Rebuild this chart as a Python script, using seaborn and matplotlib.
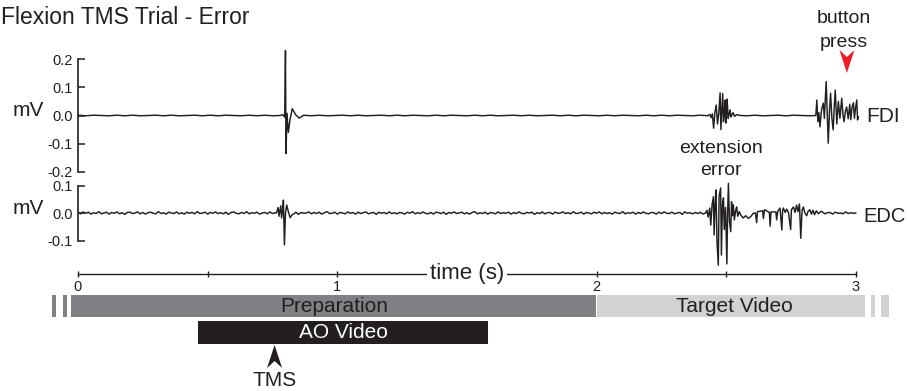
import numpy as np
import pandas as pd
import matplotlib
matplotlib.use("Agg")
import matplotlib.pyplot as plt
from matplotlib.patches import Polygon
import seaborn as sns

# ---------------- EMG recordings (mV) ----------------
# baseline fuzz, in thousandths of a mV
FDI_NOISE_STEP = 0.03
FDI_NOISE = [1, -1, 1, 0, -1, 1, -1, 1, -1, 0,
             1, -1, 1, -1, 0, 1, -1, 1, -1, 1,
             0, -1, 1, -1, 1, -1, 1, 0, -1, 1,
             -1, 1, -1, 0, 1, -1, 1, -1, 0, 1,
             -1, 1, -1, 1, 0, -1, 1, -1, 1, 0,
             -1, 1, -1, 1, -1, 0, 1, -1, 1, -1,
             0, 1, -1, 1, -1, 1, 0, -1, 1, -1,
             1, 0, -1, 1, -1, 1, -1, 1, 0, -1,
             1, -1, 0, 1, -1, 1, -1, 1, -1, 0,
             1, -1, 1, 0, -1, 1, -1, 1, -1, 1, 0]

EDC_NOISE_STEP = 0.01
EDC_NOISE = [2, -3, 4, -1, 3, -4, 1, -2, 5, -3, 0, 3, -4, 2, -1, 4, -3, 1, -5, 2,
             3, -2, 0, 4, -3, 2, -4, 1, 3, -1, -3, 5, -2, 1, -4, 3, 0, -2, 4, -3,
             1, -4, 3, -1, 2, -3, 5, -2, 0, 3, -4, 2, -1, 4, -2, 1, -3, 3, -5, 2,
             4, -1, -3, 2, -2, 5, -3, 1, -1, 3, -4, 0, 2, -3, 4, -2, 1, -4, 3, -1,
             -2, 4, -3, 1, 3, -5, 2, -1, 0, 4, -3, 2, -2, 3, -4, 1, 5, -2, -1, 3,
             -4, 2, 0, -3, 4, -1, 2, -4, 3, -2, 1, 4, -3, 0, 2, -5, 3, -1, 2, -3,
             4, -2, 1, -3, 2, 0, -4, 3, -1, 5, -3, 1, -2, 4, -1, -3, 2, -4, 3, 1,
             -2, 3, -5, 2, -1, 4, -2, 0, 3, -3, 1, -4, 2, 5, -3, 1, -2, 3, -4, 2,
             0, -3, 4, -2, 1, -1, 3, -4, 2, -2, 4, -1, -3, 2, 0, 3, -5, 1, -2, 4,
             -3, 1, 2, -4, 3, -1, 0, 4, -2, 1, -3, 5, -2, -1, 3, -4, 2, 0, -3, 3,
             -1, 4, -3, 2, -2, 1, -4, 3, 0, -2, 5, -3, 1, -1, 3, -4, 2, -2, 4, -1,
             -3, 2, 1, -4, 3, -2, 4, -1, -2, 3, -3, 0, 2, -5, 4, -1, 1, -3, 2, -2,
             3, -4, 1, 2, -3, 4, -2, 0, -1, 3, -4, 2, -1, 5, -3, 1, -2, 3, -1, -3,
             2, -1, 4, -3, 1, -2, 3, -4, 0, 2, -3, 4, -1, -2, 3, -4, 1, 2, -3, 1,
             -2, 4, -3, 0, 3, -1, -2, 4, -3, 1, 2, -4, 3, -1, 0, -3, 4, -2, 1, -1,
             0]

# FDI: motor evoked potential after the pulse
FDI_MEP_T = [0.780, 0.790, 0.797, 0.800, 0.802, 0.806, 0.811, 0.818, 0.826, 0.840, 0.853, 0.868]
FDI_MEP_V = [0.000, 0.003, -0.006, 0.230, -0.135, 0.008, -0.060, -0.012, 0.024, 0.002, -0.009, 0.000]

# FDI: activity during the extension error
FDI_ERR_T = [2.430, 2.437, 2.441, 2.446, 2.451, 2.456, 2.461, 2.466, 2.471, 2.476,
             2.479, 2.483, 2.486, 2.489, 2.492, 2.495, 2.498, 2.501, 2.503, 2.507,
             2.511, 2.514, 2.518, 2.522, 2.526, 2.532, 2.540, 2.555]
FDI_ERR_V = [0.000, 0.004, -0.008, 0.006, -0.045, 0.012, 0.037, -0.030, 0.010, 0.080,
             -0.050, 0.020, 0.078, -0.022, 0.005, 0.055, -0.027, 0.010, 0.058, -0.010,
             0.005, 0.020, -0.005, 0.004, 0.010, -0.003, 0.003, 0.000]

# FDI: burst around the button press
FDI_PRESS_T = [2.845, 2.849, 2.853, 2.857, 2.861, 2.867, 2.874, 2.878, 2.885, 2.889,
               2.893, 2.898, 2.902, 2.907, 2.912, 2.916, 2.920, 2.926, 2.932, 2.938,
               2.945, 2.950, 2.954, 2.959, 2.964, 2.970, 2.976, 2.980, 2.985, 2.990,
               2.994, 2.998, 3.003, 3.006, 3.009]
FDI_PRESS_V = [0.000, 0.055, -0.022, 0.010, -0.040, 0.020, 0.044, -0.010, 0.120, 0.010,
               -0.098, 0.020, 0.079, -0.010, -0.051, 0.030, 0.090, -0.030, 0.050, -0.010,
               0.061, 0.000, -0.022, 0.015, 0.030, -0.012, 0.040, -0.015, 0.030, 0.045,
               -0.010, 0.025, 0.055, -0.016, -0.004]

# EDC: motor evoked potential after the pulse
EDC_MEP_T = [0.765, 0.769, 0.772, 0.775, 0.779, 0.782, 0.785, 0.789, 0.792, 0.796,
             0.800, 0.805, 0.811, 0.818, 0.826, 0.835]
EDC_MEP_V = [0.000, 0.012, 0.020, -0.012, 0.010, 0.026, -0.018, 0.010, 0.047, -0.116,
             0.000, 0.029, 0.005, -0.017, -0.006, -0.002]

# EDC: extension error burst
EDC_ERR_T = [2.420, 2.425, 2.430, 2.436, 2.440, 2.445, 2.450, 2.453, 2.457, 2.460,
             2.464, 2.469, 2.472, 2.478, 2.481, 2.485, 2.489, 2.492, 2.497, 2.502,
             2.505, 2.508, 2.512, 2.517, 2.520, 2.524, 2.527, 2.531, 2.536, 2.540,
             2.544, 2.550, 2.556, 2.565, 2.575, 2.585, 2.595, 2.605]
EDC_ERR_V = [0.000, 0.010, -0.015, 0.018, -0.044, 0.030, 0.059, -0.080, 0.040, 0.084,
             -0.104, -0.190, 0.060, 0.091, -0.153, 0.030, 0.055, -0.060, 0.020, -0.185,
             0.000, 0.108, -0.030, -0.068, 0.041, -0.010, 0.030, -0.025, 0.010, 0.022,
             -0.012, 0.005, -0.008, -0.018, -0.010, -0.020, -0.012, 0.000]

# EDC: later scattered activity
EDC_LATE_T = [2.612, 2.617, 2.620, 2.640, 2.643, 2.647, 2.666, 2.669, 2.672, 2.691,
              2.694, 2.698, 2.707, 2.714, 2.717, 2.720, 2.727, 2.733, 2.740, 2.748,
              2.751, 2.759, 2.765, 2.771, 2.776, 2.782, 2.787, 2.792, 2.797, 2.803,
              2.810, 2.815, 2.822, 2.828, 2.834, 2.840, 2.847, 2.855, 2.865]
EDC_LATE_V = [0.000, -0.035, 0.005, 0.008, -0.020, 0.012, 0.002, -0.048, 0.004, 0.004,
              -0.025, 0.006, 0.018, -0.062, 0.010, 0.018, 0.002, 0.014, 0.000, -0.060,
              0.012, 0.022, 0.002, 0.029, 0.005, 0.033, -0.092, 0.010, 0.022, 0.000,
              -0.010, 0.006, 0.012, -0.004, 0.010, -0.006, 0.008, -0.003, 0.006]

# ---------------- trial timeline (s) ----------------
EPOCH_LABELS = ["Preparation", "Target Video"]
EPOCH_START = [-0.1015, 2.002]
EPOCH_END = [1.998, 3.129]
EPOCH_LABEL_T = [0.99, 2.532]
AO_LABEL = "AO Video"
AO_START, AO_END = 0.463, 1.581
TMS_TIME = 0.758
PRESS_TIME = 2.965
TIME_TICKS = [0, 0.5, 1, 1.5, 2, 2.5, 3]
TIME_LABELS = ["0", "", "1", "", "2", "", "3"]
FDI_TICKS = [0.2, 0.1, 0.0, -0.1, -0.2]
FDI_TICK_LABELS = ["0.2", "0.1", "0.0", "-0.1", "-0.2"]
EDC_TICKS = [0.1, 0.0, -0.1]
EDC_TICK_LABELS = ["0.1", "0.0", "-0.1"]


def build_trace(noise, step, events):
    """Merge baseline fuzz with the hand-read event segments."""
    t = np.arange(len(noise)) * step
    v = np.asarray(noise, float) / 1000.0
    keep = np.ones(len(t), bool)
    for et, _ in events:
        keep &= ~((t >= et[0]) & (t <= et[-1]))
    ts = [t[keep]] + [np.asarray(et, float) for et, _ in events]
    vs = [v[keep]] + [np.asarray(ev, float) for _, ev in events]
    df = pd.DataFrame({"time": np.concatenate(ts), "mV": np.concatenate(vs)})
    return df.sort_values("time").reset_index(drop=True)


fdi = build_trace(FDI_NOISE, FDI_NOISE_STEP,
                  [(FDI_MEP_T, FDI_MEP_V), (FDI_ERR_T, FDI_ERR_V), (FDI_PRESS_T, FDI_PRESS_V)])
edc = build_trace(EDC_NOISE, EDC_NOISE_STEP,
                  [(EDC_MEP_T, EDC_MEP_V), (EDC_ERR_T, EDC_ERR_V), (EDC_LATE_T, EDC_LATE_V)])

# ---------------- styling ----------------
sns.set_style("ticks")
plt.rcParams["font.family"] = ["Liberation Sans", "DejaVu Sans"]
plt.rcParams["axes.unicode_minus"] = False
INK = "#231f20"
PREP_GREY = "#808184"
TARGET_GREY = "#d1d2d4"
RED = "#ed1c24"

W, H = 908, 391
X_LEFT, X_RIGHT = 78, 856
PX_PER_S = (X_RIGHT - X_LEFT) / 3.0


def frame(x0, y0, x1, y1):
    return [x0 / W, 1 - y1 / H, (x1 - x0) / W, (y1 - y0) / H]


fig = plt.figure(figsize=(W / 100, H / 100), dpi=100)
fig.patch.set_facecolor("white")

ax_fdi = fig.add_axes(frame(X_LEFT, 44.9, X_RIGHT, 186.1))
ax_edc = fig.add_axes(frame(X_LEFT, 180, X_RIGHT, 268))

sns.lineplot(data=fdi, x="time", y="mV", ax=ax_fdi, color=INK, linewidth=1.05,
             estimator=None, sort=False, clip_on=False)
sns.lineplot(data=edc, x="time", y="mV", ax=ax_edc, color=INK, linewidth=1.05,
             estimator=None, sort=False, clip_on=False)

for ax, lim, ticks, labels, bound in (
        (ax_fdi, (-0.25, 0.25), FDI_TICKS, FDI_TICK_LABELS, 0.2),
        (ax_edc, (-0.2, 0.12), EDC_TICKS, EDC_TICK_LABELS, 0.1)):
    ax.set_xlim(0, 3)
    ax.set_ylim(*lim)
    ax.patch.set_alpha(0)
    sns.despine(ax=ax, bottom=True)
    ax.set_xticks([])
    ax.set_xlabel("")
    ax.set_ylabel("")
    ax.set_yticks(ticks)
    ax.set_yticklabels(labels)
    ax.spines["left"].set_bounds(-bound, bound)
    ax.spines["left"].set_linewidth(1.2)
    ax.spines["left"].set_color(INK)
    ax.tick_params(axis="y", left=True, direction="in", length=5, width=1.1, pad=4,
                   labelsize=10.5, colors=INK)

fig.text(13 / W, 1 - 110 / H, "mV", ha="left", va="center", fontsize=15, color=INK)
fig.text(13 / W, 1 - 208 / H, "mV", ha="left", va="center", fontsize=15, color=INK)

# time axis
ax_time = fig.add_axes(frame(X_LEFT, 273, X_RIGHT, 274))
ax_time.set_xlim(0, 3)
ax_time.set_ylim(0, 1)
ax_time.patch.set_alpha(0)
for side in ("top", "left", "right"):
    ax_time.spines[side].set_visible(False)
ax_time.spines["bottom"].set_linewidth(1.0)
ax_time.spines["bottom"].set_color(INK)
ax_time.set_yticks([])
ax_time.set_xticks(TIME_TICKS)
ax_time.set_xticklabels(TIME_LABELS)
ax_time.tick_params(axis="x", bottom=True, direction="inout", length=5, width=1.0, pad=2,
                    labelsize=10.5, colors=INK)
ax_time.text(1.5, 0, "time (s)", transform=ax_time.get_xaxis_transform(),
             ha="center", va="center", fontsize=16, color=INK, zorder=5,
             bbox=dict(boxstyle="square,pad=0.12", fc="white", ec="none"))

# annotation layer: x in seconds, y in pixels from the top
ax_ann = fig.add_axes([0, 0, 1, 1])
ax_ann.set_xlim(-X_LEFT / PX_PER_S, (W - X_LEFT) / PX_PER_S)
ax_ann.set_ylim(H, 0)
ax_ann.axis("off")
ax_ann.patch.set_alpha(0)

epoch_colors = [PREP_GREY, TARGET_GREY]
for s, e, c in zip(EPOCH_START, EPOCH_END, epoch_colors):
    ax_ann.barh(306, e - s, left=s, height=22, color=c, linewidth=0)
# axis-break stripes at both ends of the timeline
for s, e in ((-0.085, -0.059), (-0.044, -0.027), (3.035, 3.057), (3.074, 3.096)):
    ax_ann.barh(306, e - s, left=s, height=23, color="white", linewidth=0)
for lab, tx in zip(EPOCH_LABELS, EPOCH_LABEL_T):
    ax_ann.text(tx, 311.7, lab, ha="center", va="baseline", fontsize=15, color=INK)

ax_ann.barh(332.3, AO_END - AO_START, left=AO_START, height=22.5, color=INK, linewidth=0)
ax_ann.text((AO_START + AO_END) / 2, 338, AO_LABEL, ha="center", va="baseline",
            fontsize=15, color="white")


def arrowhead(t, tip_y, direction, color):
    """Notched arrowhead; direction +1 points down, -1 points up."""
    hw = 7.5 / PX_PER_S
    pts = [(t, tip_y), (t - hw, tip_y - direction * 23),
           (t, tip_y - direction * 16), (t + hw, tip_y - direction * 23)]
    ax_ann.add_patch(Polygon(pts, closed=True, fc=color, ec="none"))


arrowhead(TMS_TIME, 345, -1, INK)
ax_ann.text(TMS_TIME, 386, "TMS", ha="center", va="baseline", fontsize=15, color=INK)

arrowhead(PRESS_TIME, 73, 1, RED)
ax_ann.text(PRESS_TIME - 0.013, 23.3, "button", ha="center", va="baseline", fontsize=14, color=INK)
ax_ann.text(PRESS_TIME - 0.013, 46.7, "press", ha="center", va="baseline", fontsize=14, color=INK)

ax_ann.text(2.4796, 153.3, "extension", ha="center", va="baseline", fontsize=14, color=INK)
ax_ann.text(2.4796, 175, "error", ha="center", va="baseline", fontsize=14, color=INK)

ax_ann.text((866 - X_LEFT) / PX_PER_S, 121.7, "FDI", ha="left", va="baseline",
            fontsize=15, color=INK)
ax_ann.text((863 - X_LEFT) / PX_PER_S, 221.7, "EDC", ha="left", va="baseline",
            fontsize=14.5, color=INK)

fig.text(1 / W, 1 - 24 / H, "Flexion TMS Trial - Error", ha="left", va="baseline",
         fontsize=16.5, color=INK)

fig.savefig("out.png", dpi=100, facecolor="white")
